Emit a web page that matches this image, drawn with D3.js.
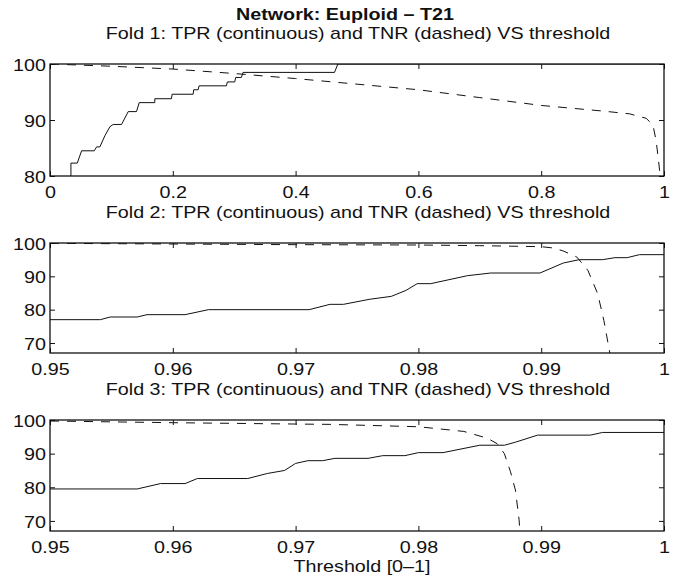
<!DOCTYPE html>
<html>
<head>
<meta charset="utf-8">
<script src="https://cdn.jsdelivr.net/npm/d3@7"></script>
<style>
  html, body { margin: 0; padding: 0; background: #fff; }
  svg { display: block; }
  text { font-family: "Liberation Sans", Arial, Helvetica, sans-serif; fill: #111; }
</style>
</head>
<body>
<svg id="chart" width="676" height="580"></svg>
<script>
// Fold 1: thresholds over [0, 1]
const fold1TprThr = [0, 0.0341, 0.0341, 0.0444, 0.0515, 0.0721, 0.0759, 0.0813, 0.0894, 0.0976, 0.103, 0.1165, 0.1203, 0.1274, 0.1409, 0.1453, 0.1707, 0.1707, 0.1978, 0.1989, 0.2331, 0.2341, 0.2412, 0.2428, 0.2873, 0.2889, 0.3008, 0.3024, 0.3117, 0.3144, 0.4634, 0.4688, 1];
const fold1Tpr    = [60, 60, 82.3, 82.3, 84.5, 84.5, 85.2, 85.2, 87.2, 88.8, 89.2, 89.2, 90, 91.5, 91.5, 93.1, 93.1, 93.8, 93.8, 94.6, 94.6, 95.4, 95.4, 96.1, 96.1, 96.8, 96.8, 97.6, 97.6, 98.5, 98.5, 100, 100];
const fold1TnrThr = [0, 0.1, 0.2, 0.3, 0.4, 0.5, 0.6, 0.7, 0.8, 0.9, 0.944, 0.971, 0.982, 0.987, 0.991, 0.9935, 0.996];
const fold1Tnr    = [100, 99.6, 99.1, 98.3, 97.4, 96.4, 95.4, 94.0, 92.6, 91.6, 91.1, 90.3, 89.1, 86.4, 82.9, 80.2, 74];

// Fold 2: thresholds over [0.95, 1]
const fold2TprThr = [0.95, 0.9541, 0.9549, 0.9571, 0.9579, 0.961, 0.9629, 0.9711, 0.9728, 0.9739, 0.976, 0.9778, 0.979, 0.9799, 0.981, 0.984, 0.9859, 0.9899, 0.9918, 0.9931, 0.995, 0.996, 0.997, 0.998, 1];
const fold2Tpr    = [77, 77, 77.8, 77.8, 78.5, 78.5, 80, 80, 81.6, 81.6, 83.1, 84.0, 85.8, 87.8, 87.8, 90.2, 91, 91, 94, 95, 95, 95.6, 95.6, 96.5, 96.5];
const fold2TnrThr = [0.95, 0.96, 0.97, 0.98, 0.985, 0.99, 0.991, 0.9918, 0.9929, 0.9938, 0.9946, 0.9951, 0.9956, 0.9958];
const fold2Tnr    = [99.9, 99.7, 99.5, 99.4, 99.2, 98.9, 98.5, 97.6, 95.8, 91.8, 84.8, 76.8, 66.8, 60];

// Fold 3: thresholds over [0.95, 1]
const fold3TprThr = [0.95, 0.9571, 0.959, 0.961, 0.962, 0.9661, 0.9677, 0.9691, 0.97, 0.971, 0.9722, 0.9732, 0.9759, 0.9771, 0.9789, 0.98, 0.982, 0.985, 0.987, 0.9879, 0.9897, 0.994, 0.995, 1];
const fold3Tpr    = [79.5, 79.5, 81.1, 81.1, 82.6, 82.6, 84.1, 85, 87.1, 87.9, 87.9, 88.6, 88.6, 89.4, 89.4, 90.3, 90.3, 92.5, 92.5, 93.4, 95.5, 95.5, 96.3, 96.3];
const fold3TnrThr = [0.95, 0.96, 0.97, 0.9728, 0.98, 0.9837, 0.9856, 0.9864, 0.987, 0.9875, 0.9879, 0.9882, 0.9884];
const fold3Tnr    = [99.7, 99.2, 98.8, 98.7, 98.0, 96.6, 94.6, 93.0, 90.0, 84.6, 79.2, 70.3, 60];

// Tick labels
const fold1XTicks = [0, 0.2, 0.4, 0.6, 0.8, 1];
const fold1XLabels = ["0", "0.2", "0.4", "0.6", "0.8", "1"];
const zoomXTicks = [0.95, 0.96, 0.97, 0.98, 0.99, 1];
const zoomXLabels = ["0.95", "0.96", "0.97", "0.98", "0.99", "1"];
const fold1YTicks = [80, 90, 100];
const zoomYTicks = [70, 80, 90, 100];

const mainTitle = "Network: Euploid \u2013 T21";
const foldTitles = [
  "Fold 1: TPR (continuous) and TNR (dashed) VS threshold",
  "Fold 2: TPR (continuous) and TNR (dashed) VS threshold",
  "Fold 3: TPR (continuous) and TNR (dashed) VS threshold"
];
const xAxisLabel = "Threshold [0\u20131]";

const svg = d3.select("#chart");
const SX = 1.16;           // horizontal stretch applied to all text
const FS = 17;
const INK = "#111";
const left = 50, right = 664;

function stretch(sel) {
  sel.each(function () {
    const t = d3.select(this);
    const x = +t.attr("x") || 0, y = +t.attr("y") || 0;
    t.attr("x", null).attr("y", null)
     .attr("transform", `translate(${x},${y}) scale(${SX},1)`);
  });
}

const panels = [
  { top: 64, bottom: 176, xDomain: [0, 1], yDomain: [80, 100],
    xTicks: fold1XTicks, xLabels: fold1XLabels, yTicks: fold1YTicks,
    tpr: [fold1TprThr, fold1Tpr], tnr: [fold1TnrThr, fold1Tnr], title: foldTitles[0] },
  { top: 243, bottom: 353, xDomain: [0.95, 1], yDomain: [67, 100],
    xTicks: zoomXTicks, xLabels: zoomXLabels, yTicks: zoomYTicks,
    tpr: [fold2TprThr, fold2Tpr], tnr: [fold2TnrThr, fold2Tnr], title: foldTitles[1] },
  { top: 420, bottom: 531, xDomain: [0.95, 1], yDomain: [67, 100],
    xTicks: zoomXTicks, xLabels: zoomXLabels, yTicks: zoomYTicks,
    tpr: [fold3TprThr, fold3Tpr], tnr: [fold3TnrThr, fold3Tnr], title: foldTitles[2] }
];

panels.forEach((p, i) => {
  const x = d3.scaleLinear().domain(p.xDomain).range([left, right]);
  const y = d3.scaleLinear().domain(p.yDomain).range([p.bottom, p.top]);
  const g = svg.append("g");

  const clipId = "clip" + i;
  svg.append("clipPath").attr("id", clipId)
    .append("rect").attr("x", left).attr("y", p.top)
    .attr("width", right - left).attr("height", p.bottom - p.top);

  const line = d3.line().x(d => x(d[0])).y(d => y(d[1]));
  const tprPts = d3.zip(p.tpr[0], p.tpr[1]);
  const tnrPts = d3.zip(p.tnr[0], p.tnr[1]);

  const plot = g.append("g").attr("clip-path", `url(#${clipId})`);
  plot.append("path").datum(tnrPts).attr("d", line)
    .attr("fill", "none").attr("stroke", INK).attr("stroke-width", 1)
    .attr("stroke-dasharray", "9,8");
  plot.append("path").datum(tprPts).attr("d", line)
    .attr("fill", "none").attr("stroke", INK).attr("stroke-width", 1);

  // Axes: inward ticks on all four sides, labels on bottom and left
  const fmt = d => p.xLabels[p.xTicks.indexOf(d)];
  const bottomAx = g.append("g").attr("transform", `translate(0,${p.bottom})`)
    .call(d3.axisBottom(x).tickValues(p.xTicks).tickFormat(fmt)
      .tickSizeInner(-5).tickSizeOuter(0).tickPadding(6));
  const topAx = g.append("g").attr("transform", `translate(0,${p.top})`)
    .call(d3.axisTop(x).tickValues(p.xTicks).tickFormat("")
      .tickSizeInner(-5).tickSizeOuter(0));
  const leftAx = g.append("g").attr("transform", `translate(${left},0)`)
    .call(d3.axisLeft(y).tickValues(p.yTicks).tickFormat(d3.format("d"))
      .tickSizeInner(-5).tickSizeOuter(0).tickPadding(4));
  const rightAx = g.append("g").attr("transform", `translate(${right},0)`)
    .call(d3.axisRight(y).tickValues(p.yTicks).tickFormat("")
      .tickSizeInner(-5).tickSizeOuter(0));

  [bottomAx, topAx, leftAx, rightAx].forEach(ax => {
    ax.select(".domain").remove();
    ax.selectAll("line").attr("stroke", INK).attr("stroke-width", 1);
    ax.selectAll("text").attr("font-size", FS)
      .attr("font-family", '"Liberation Sans", Arial, Helvetica, sans-serif')
      .attr("fill", INK);
  });
  bottomAx.selectAll("text").each(function () {
    d3.select(this).attr("dy", null).attr("y", 22);
  });
  leftAx.selectAll("text").each(function () {
    d3.select(this).attr("dy", "0.36em").attr("x", -4);
  });
  stretch(bottomAx.selectAll("text"));
  stretch(leftAx.selectAll("text"));

  // Box
  g.append("rect").attr("x", left).attr("y", p.top)
    .attr("width", right - left).attr("height", p.bottom - p.top)
    .attr("fill", "none").attr("stroke", INK).attr("stroke-width", 1.3);

  // Panel title
  g.append("text").attr("x", 358).attr("y", p.top - 25)
    .attr("text-anchor", "middle").attr("font-size", FS).text(p.title)
    .call(stretch);
});

svg.append("text").attr("x", 345).attr("y", 20)
  .attr("text-anchor", "middle").attr("font-size", FS).attr("font-weight", "bold")
  .text(mainTitle).call(stretch);

svg.append("text").attr("x", 362).attr("y", 572)
  .attr("text-anchor", "middle").attr("font-size", FS)
  .text(xAxisLabel).call(stretch);
</script>
</body>
</html>
